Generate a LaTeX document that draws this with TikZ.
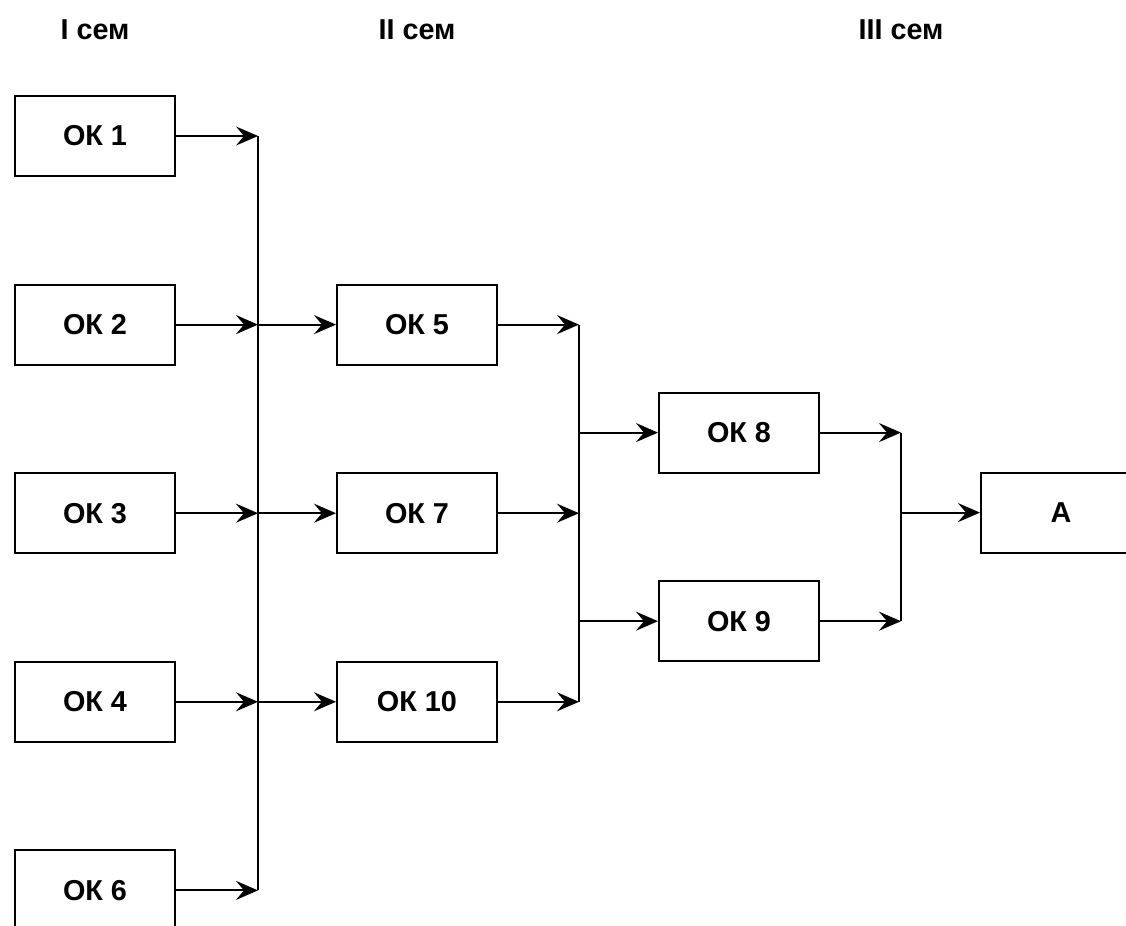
\documentclass[tikz,border=0pt]{standalone}
\usepackage{fontspec}
\setmainfont{Liberation Sans}
\usetikzlibrary{positioning,arrows.meta}

\begin{document}
\begin{tikzpicture}[x=1pt,y=1pt,line width=1pt,node distance=53.3pt,every node/.style={font=\bfseries\fontsize{14.4}{17}\selectfont},okbox/.style={draw, minimum width=80pt, minimum height=40pt, inner sep=0pt},arr/.style={-{Stealth[length=11pt,width=9.5pt,inset=4pt]}}]
\useasboundingbox (0,0) rectangle (563,-463);
% I сем
\node[okbox] (ok1) at (47.5,-68) {ОК 1};
\node[okbox,below=of ok1] (ok2) {ОК 2};
\node[okbox,below=of ok2] (ok3) {ОК 3};
\node[okbox,below=of ok3] (ok4) {ОК 4};
\node[okbox,below=of ok4] (ok6) {ОК 6};
% II сем
\node[okbox,right=80pt of ok2] (ok5) {ОК 5};
\node[okbox,below=of ok5] (ok7) {ОК 7};
\node[okbox,below=of ok7] (ok10) {ОК 10};
% III сем
\node[okbox,right=80pt of ok5,yshift=-54pt] (ok8) {ОК 8};
\node[okbox,below=of ok8] (ok9) {ОК 9};
\node[okbox,right=80pt of ok8,yshift=-40pt] (att) {А};
% buses
\coordinate (bus1) at ([xshift=41pt]ok1.east);
\coordinate (bus2) at ([xshift=40.5pt]ok5.east);
\coordinate (bus3) at ([xshift=40.5pt]ok8.east);
% titles
\node (sem1) at (47.5,-15) {I сем};
\node (sem2) at (ok5 |- sem1) {II сем};
\node (sem3) at (bus3 |- sem1) {III сем};

\draw (bus1) -- (bus1 |- ok6);
\draw (bus2) -- (bus2 |- ok10);
\draw (bus3) -- (bus3 |- ok9);
\foreach \n in {1,2,3,4,6} \draw[arr] (ok\n) -- (ok\n -| bus1);
\foreach \n in {5,7,10} {
  \draw[arr] (ok\n -| bus1) -- (ok\n);
  \draw[arr] (ok\n) -- (ok\n -| bus2);
}
\foreach \n in {8,9} {
  \draw[arr] (ok\n -| bus2) -- (ok\n);
  \draw[arr] (ok\n) -- (ok\n -| bus3);
}
\draw[arr] (att -| bus3) -- (att);
\end{tikzpicture}
\end{document}
